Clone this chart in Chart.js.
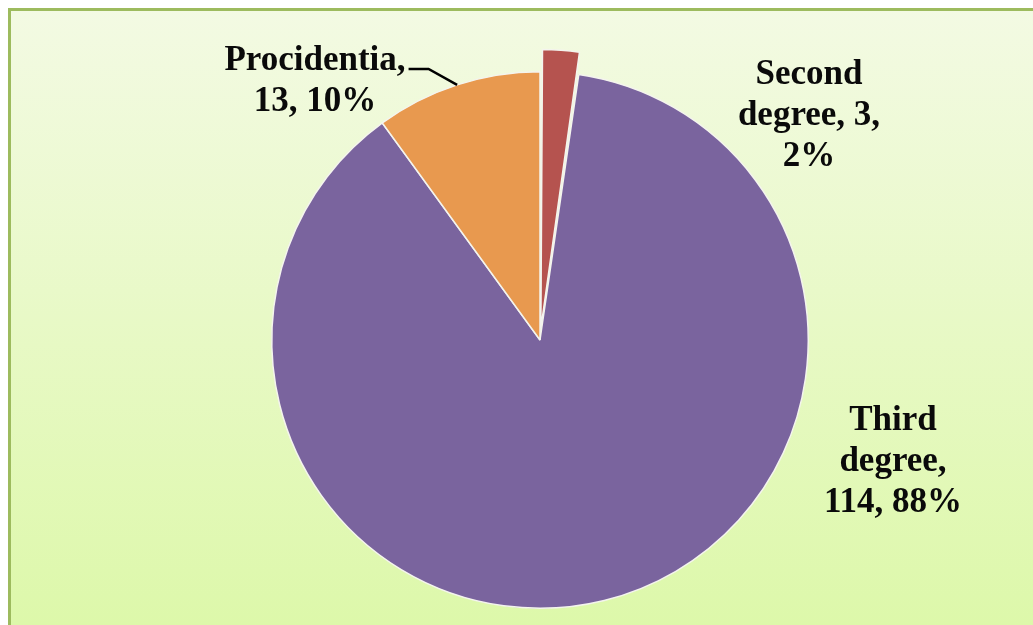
<!DOCTYPE html>
<html>
<head>
<meta charset="utf-8">
<script src="https://cdn.jsdelivr.net/npm/chart.js@4/dist/chart.umd.min.js"></script>
<style>
  html, body { margin: 0; padding: 0; background: #ffffff; overflow: hidden; }
  #wrap { width: 1033px; height: 625px; position: relative; overflow: hidden; }
</style>
</head>
<body>
<div id="wrap"><canvas id="c" width="1033" height="640"></canvas></div>
<script>
// ---- data ----
const categories = ['Second degree', 'Third degree', 'Procidentia'];
const values = [3, 114, 13];
const sliceColors = ['#b5534f', '#7a649e', '#e8994f'];
// how many words of "name, value, pct%" go on each label line
const labelLineWords = [[1, 2, 1], [1, 1, 2], [1, 2]];
// label anchor (centre x, first baseline y)
const labelAnchors = [[809, 84], [893, 430], [315, 70]];

const total = values.reduce((a, b) => a + b, 0);

const bgPlugin = {
  id: 'bgPlugin',
  beforeDraw(chart) {
    const ctx = chart.ctx;
    const W = chart.width, H = chart.height;
    ctx.save();
    ctx.fillStyle = '#ffffff';
    ctx.fillRect(0, 0, W, H);
    const g = ctx.createLinearGradient(0, 10, 0, 625);
    g.addColorStop(0, '#f3fae3');
    g.addColorStop(1, '#ddf8aa');
    ctx.fillStyle = g;
    ctx.fillRect(9, 9, W, H);
    ctx.strokeStyle = '#9dbb5e';
    ctx.lineWidth = 3;
    ctx.beginPath();
    ctx.moveTo(9.5, H + 5);
    ctx.lineTo(9.5, 9.5);
    ctx.lineTo(W + 5, 9.5);
    ctx.stroke();
    ctx.restore();
  }
};

const labelPlugin = {
  id: 'labelPlugin',
  afterDatasetsDraw(chart) {
    const ctx = chart.ctx;
    const meta = chart.getDatasetMeta(0);
    ctx.save();
    ctx.font = 'bold 35px "Liberation Serif", "Times New Roman", serif';
    ctx.fillStyle = '#0a0a0a';
    ctx.textAlign = 'center';
    ctx.textBaseline = 'alphabetic';
    const lh = 41;
    values.forEach((v, i) => {
      const pct = Math.round(v / total * 100);
      const words = `${categories[i]}, ${v}, ${pct}%`.split(' ');
      const lines = [];
      let k = 0;
      labelLineWords[i].forEach(n => { lines.push(words.slice(k, k + n).join(' ')); k += n; });
      const [ax, ay] = labelAnchors[i];
      lines.forEach((ln, j) => ctx.fillText(ln, ax, ay + j * lh));
    });
    // leader line for Procidentia
    const arc = meta.data[2];
    const p = arc.getProps(['x', 'y', 'startAngle', 'endAngle', 'outerRadius'], true);
    const mid = (p.startAngle + p.endAngle) / 2;
    const ex = p.x + Math.cos(mid) * p.outerRadius;
    const ey = p.y + Math.sin(mid) * p.outerRadius;
    const w = ctx.measureText('Procidentia,').width;
    const sx = labelAnchors[2][0] + w / 2 + 3;
    const sy = labelAnchors[2][1] - 1;
    ctx.strokeStyle = '#000000';
    ctx.lineWidth = 2.5;
    ctx.beginPath();
    ctx.moveTo(sx, sy);
    ctx.lineTo(sx + 20, sy);
    ctx.lineTo(ex, ey);
    ctx.stroke();
    ctx.restore();
  }
};

new Chart(document.getElementById('c'), {
  type: 'pie',
  data: {
    labels: categories,
    datasets: [{
      data: values,
      backgroundColor: sliceColors,
      borderColor: '#f4f4ee',
      borderWidth: 1.5,
      offset: [48, 0, 0]
    }]
  },
  options: {
    responsive: false,
    animation: false,
    layout: { padding: { top: 47, bottom: 7, left: 247, right: 200 } },
    plugins: {
      legend: { display: false },
      tooltip: { enabled: false }
    }
  },
  plugins: [bgPlugin, labelPlugin]
});
</script>
</body>
</html>
